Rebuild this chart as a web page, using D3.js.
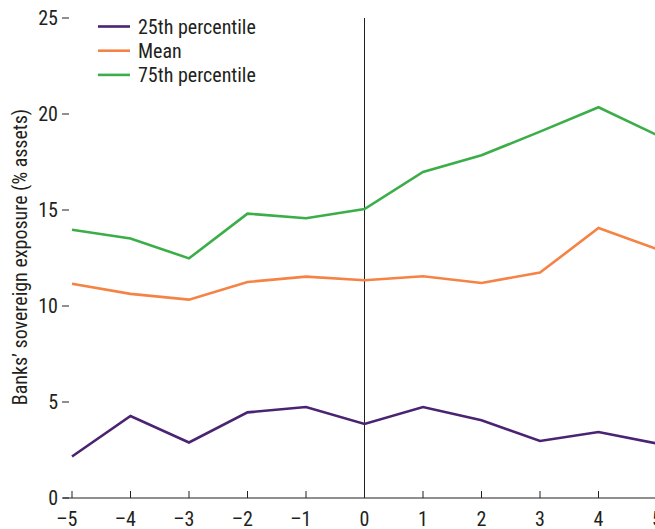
<!DOCTYPE html>
<html><head><meta charset="utf-8">
<script src="https://cdn.jsdelivr.net/npm/d3@7"></script>
<style>
html,body{margin:0;padding:0;background:#fff;overflow:hidden}
svg{display:block}
text{font-family:"Liberation Sans Narrow","Arial Narrow","Roboto Condensed","Liberation Sans",sans-serif;fill:#231f20}
</style></head>
<body><svg id="c" width="655" height="529"></svg>
<script>
const years = [-5,-4,-3,-2,-1,0,1,2,3,4,5];
const p25 = [2.16,4.27,2.89,4.46,4.74,3.86,4.74,4.05,2.97,3.44,2.84];
const mean = [11.16,10.63,10.33,11.25,11.53,11.34,11.55,11.2,11.74,14.06,12.97];
const p75 = [13.97,13.52,12.48,14.81,14.57,15.05,16.98,17.85,19.08,20.35,18.9];
const seriesNames = ["25th percentile","Mean","75th percentile"];
const seriesColors = ["#4a2371","#f58345","#3cae49"];
const yTicks = [0,5,10,15,20,25];
const yTitle = "Banks\u2019 sovereign exposure (% assets)";

const FS = 20;
const svg = d3.select("#c");
const x = d3.scaleLinear().domain([-5,5]).range([72,657]);
const y = d3.scaleLinear().domain([0,25]).range([498,18]);

// x axis line
svg.append("line").attr("x1",63).attr("x2",655).attr("y1",y(0)).attr("y2",y(0))
  .attr("stroke","#231f20").attr("stroke-width",1);
// x ticks (inward)
svg.selectAll(".xt").data(years).enter().append("line")
  .attr("x1",d=>x(d)).attr("x2",d=>x(d)).attr("y1",y(0)).attr("y2",y(0)-7)
  .attr("stroke","#231f20").attr("stroke-width",1);
svg.selectAll(".xl").data(years).enter().append("text")
  .attr("x",d=>d<0 ? x(d)+5.5 : x(d)).attr("y",526)
  .attr("text-anchor",d=>d<0?"end":"middle").attr("font-size",FS)
  .text(d=>d<0?"\u2013"+Math.abs(d):d);
// y ticks
svg.selectAll(".yt").data(yTicks).enter().append("line")
  .attr("x1",62).attr("x2",69).attr("y1",d=>y(d)).attr("y2",d=>y(d))
  .attr("stroke","#231f20").attr("stroke-width",1);
svg.selectAll(".yl").data(yTicks).enter().append("text")
  .attr("x",58).attr("y",d=>y(d)+7).attr("text-anchor","end").attr("font-size",FS)
  .text(d=>d);
// y title
svg.append("text").attr("transform","translate(27,257) rotate(-90)")
  .attr("text-anchor","middle").attr("font-size",FS).text(yTitle);
// vertical zero line
svg.append("line").attr("x1",x(0)).attr("x2",x(0)).attr("y1",y(25)).attr("y2",y(0))
  .attr("stroke","#231f20").attr("stroke-width",1);

const data = [p25, mean, p75];
const line = d3.line().x((d,i)=>x(years[i])).y(d=>y(d));
data.forEach((s,k)=>{
  svg.append("path").datum(s).attr("d",line).attr("fill","none")
    .attr("stroke",seriesColors[k]).attr("stroke-width",2.6).attr("stroke-linejoin","miter");
});
// legend
const lg = svg.append("g");
seriesNames.forEach((n,k)=>{
  const ly = 26.5 + k*24.2;
  lg.append("line").attr("x1",98).attr("x2",130).attr("y1",ly).attr("y2",ly)
    .attr("stroke",seriesColors[k]).attr("stroke-width",2.6);
  lg.append("text").attr("x",138).attr("y",ly+7).attr("font-size",FS).text(n);
});
</script></body></html>
